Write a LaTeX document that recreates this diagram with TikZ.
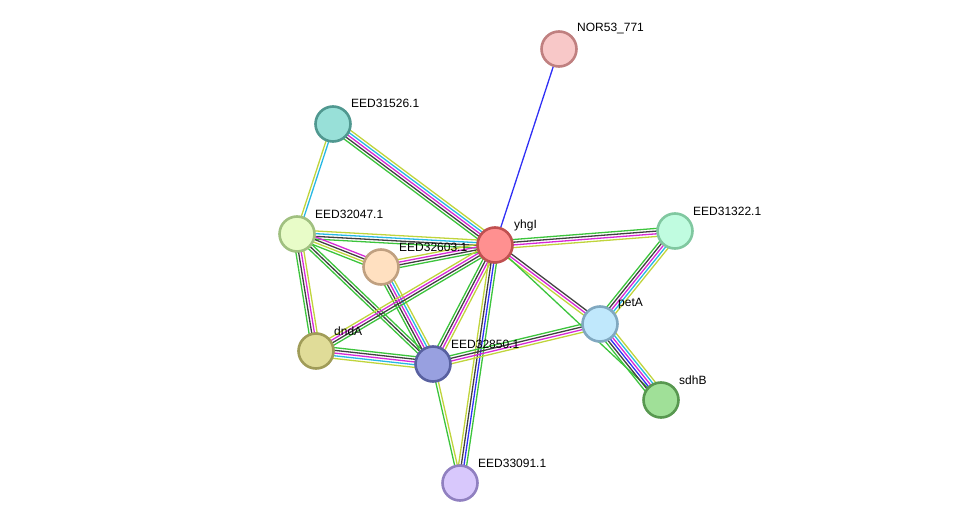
\documentclass[tikz,border=0pt]{standalone}
\usepackage{fontspec}
\setmainfont{Liberation Sans}
\usetikzlibrary{calc}
\pgfdeclarelayer{bg}
\pgfsetlayers{bg,main}
\definecolor{eg}{RGB}{60,196,60}
\definecolor{ek}{RGB}{64,64,64}
\definecolor{em}{RGB}{214,40,214}
\definecolor{ec}{RGB}{40,184,228}
\definecolor{ey}{RGB}{192,212,60}
\definecolor{eb}{RGB}{48,48,245}
\definecolor{fnor}{RGB}{248,200,200}\definecolor{dnor}{RGB}{192,128,128}
\definecolor{fa}{RGB}{152,224,216}\definecolor{da}{RGB}{80,152,144}
\definecolor{fb}{RGB}{232,252,200}\definecolor{db}{RGB}{160,192,128}
\definecolor{fy}{RGB}{255,144,144}\definecolor{dy}{RGB}{192,80,80}
\definecolor{fc}{RGB}{192,252,224}\definecolor{dc}{RGB}{128,200,160}
\definecolor{fd}{RGB}{255,224,192}\definecolor{dd}{RGB}{192,160,128}
\definecolor{fp}{RGB}{192,232,252}\definecolor{dp}{RGB}{128,168,192}
\definecolor{fn}{RGB}{224,220,152}\definecolor{dn}{RGB}{160,156,88}
\definecolor{fe}{RGB}{152,160,224}\definecolor{de}{RGB}{88,96,160}
\definecolor{fs}{RGB}{160,224,152}\definecolor{ds}{RGB}{88,152,80}
\definecolor{fv}{RGB}{216,200,252}\definecolor{dv}{RGB}{144,128,192}
\newcommand\sedge[3]{%
  \xdef\ecount{0}%
  \foreach \c in {#3}{\xdef\ecount{\the\numexpr\ecount+1\relax}}%
  \begin{pgfonlayer}{bg}
  \foreach \c [count=\i] in {#3}{%
    \pgfmathsetmacro\eoff{(\i-(\ecount+1)/2)*2.7}%
    \draw[\c, line width=1.3pt] ($(#1.center)!\eoff pt!90:(#2.center)$) -- ($(#2.center)!\eoff pt!-90:(#1.center)$);
  }
  \end{pgfonlayer}}
\tikzset{
  prot/.style 2 args={circle, minimum size=35pt, inner sep=0pt, line width=2.6pt, fill=#1, draw=#2},
  lbl/.style={anchor=west, font=\fontsize{12}{13}\selectfont, inner sep=1pt}
}
\begin{document}
\begin{tikzpicture}[x=1pt,y=-1pt]
\useasboundingbox (0,0) rectangle (976,529);
\node[prot={fnor}{dnor}] (nor) at (559,49) {};
\node[prot={fa}{da}] (e1526) at (333,124) {};
\node[prot={fb}{db}] (e2047) at (297,234) {};
\node[prot={fy}{dy}] (yhgi) at (495,245) {};
\node[prot={fc}{dc}] (e1322) at (675,231) {};
\node[prot={fd}{dd}] (e2603) at (381,267) {};
\node[prot={fp}{dp}] (peta) at (600,324) {};
\node[prot={fn}{dn}] (dnda) at (316,351) {};
\node[prot={fe}{de}] (e2850) at (433,364) {};
\node[prot={fs}{ds}] (sdhb) at (661,400) {};
\node[prot={fv}{dv}] (e3091) at (460,483) {};

\node[lbl] (lnor) at (576,29) {NOR53\_771};
\node[lbl] (l1526) at (350,103) {EED31526.1};
\node[lbl] (l2047) at (314,214) {EED32047.1};
\node[lbl] (lyhgi) at (513,225) {yhgI};
\node[lbl] (l1322) at (692,211) {EED31322.1};
\node[lbl] (l2603) at (398,247) {EED32603.1};
\node[lbl] (lpeta) at (617,304) {petA};
\node[lbl] (ldnda) at (333,331) {dndA};
\node[lbl] (l2850) at (450,344) {EED32850.1};
\node[lbl] (lsdhb) at (678,380) {sdhB};
\node[lbl] (l3091) at (477,463) {EED33091.1};

\sedge{nor}{yhgi}{eb}
\sedge{e1526}{e2047}{ey,ec}
\sedge{e1526}{yhgi}{eg,ek,em,ec,ey}
\sedge{e2047}{yhgi}{eg,ek,ec,ey}
\sedge{e2047}{e2603}{eg,ey,ek,em}
\sedge{e2047}{dnda}{eg,ek,em,ey}
\sedge{e2047}{e2850}{eg,ek,eg}
\sedge{e2603}{yhgi}{eg,ek,em,ey}
\sedge{e2603}{e2850}{eg,ek,em,ec,ey}
\sedge{dnda}{yhgi}{eg,ek,em,ey}
\sedge{dnda}{e2850}{ey,ec,em,ek,eg}
\sedge{e2850}{yhgi}{ey,em,ek,eg}
\sedge{yhgi}{e3091}{ey,ek,eb,eg}
\sedge{e2850}{e3091}{eg,ey}
\sedge{e2850}{peta}{ey,em,ek,eg}
\sedge{yhgi}{e1322}{ey,em,ek,eg}
\sedge{yhgi}{peta}{ey,em,ek}
\sedge{yhgi}{sdhb}{eg}
\sedge{e1322}{peta}{eg,ek,em,ec,ey}
\sedge{peta}{sdhb}{eg,ek,eb,em,ec,ey}
\end{tikzpicture}
\end{document}
